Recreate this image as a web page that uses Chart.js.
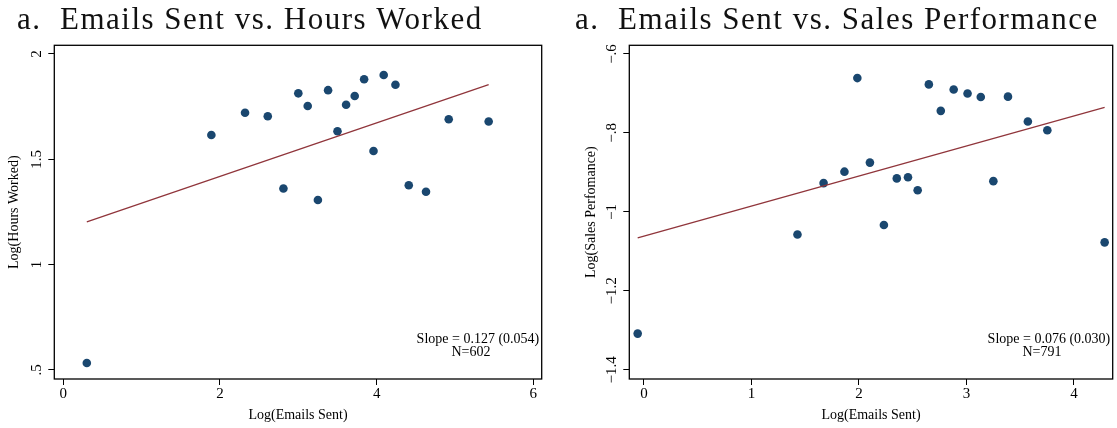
<!DOCTYPE html>
<html>
<head>
  <title>Emails Sent</title>
  <script src="https://cdn.jsdelivr.net/npm/chart.js"></script>
  <style>
    body { margin: 0; background: #fff; }
    .row { display: flex; width: 1117px; height: 428px; }
    canvas { display: block; }
  </style>
</head>
<body>
  <div class="row">
    <canvas id="hours-chart" width="558" height="428"></canvas>
    <canvas id="sales-chart" width="559" height="428"></canvas>
  </div>
  <script>
    // binned means: log(emails sent) vs log(hours worked)
    const hoursX = [0.30, 1.89, 2.32, 2.61, 2.81, 3.00, 3.12, 3.25, 3.38, 3.50,
                    3.61, 3.72, 3.84, 3.96, 4.09, 4.24, 4.41, 4.63, 4.92, 5.43];
    const hoursY = [0.533, 1.615, 1.721, 1.704, 1.361, 1.813, 1.753, 1.307, 1.828, 1.633,
                    1.759, 1.800, 1.880, 1.539, 1.900, 1.854, 1.377, 1.346, 1.690, 1.679];
    const hoursSlope = 0.127;
    const hoursSE = 0.054;
    const hoursIntercept = 1.165;
    const hoursN = 602;
    const hoursXTicks = [0, 2, 4, 6];
    const hoursYTicks = [0.5, 1, 1.5, 2];
    const hoursYLabels = ['.5', '1', '1.5', '2'];
    const hoursXRange = [-0.115, 6.107];
    const hoursYRange = [0.457, 2.041];

    // binned means: log(emails sent) vs log(sales performance)
    const salesX = [-0.058, 1.428, 1.671, 1.865, 1.985, 2.102, 2.232, 2.352, 2.456, 2.546,
                    2.650, 2.761, 2.881, 3.010, 3.133, 3.250, 3.386, 3.571, 3.752, 4.285];
    const salesY = [-1.308, -1.057, -0.927, -0.898, -0.661, -0.875, -1.033, -0.915, -0.912, -0.945,
                    -0.677, -0.744, -0.690, -0.700, -0.709, -0.922, -0.708, -0.771, -0.793, -1.077];
    const salesSlope = 0.076;
    const salesSE = 0.030;
    const salesIntercept = -1.061;
    const salesN = 791;
    const salesXTicks = [0, 1, 2, 3, 4];
    const salesYTicks = [-1.4, -1.2, -1, -0.8, -0.6];
    const salesYLabels = ['\u22121.4', '\u22121.2', '\u22121', '\u2212.8', '\u2212.6'];
    const salesXRange = [-0.136, 4.36];
    const salesYRange = [-1.423, -0.578];

    const serif = '"Liberation Serif", "Times New Roman", serif';
    const navy = '#1a476f';
    const maroon = '#90353b';

    // panel title, plot frame and the slope note
    const panelText = {
      id: 'panelText',
      afterDraw(chart, args, opts) {
        const { ctx, chartArea } = chart;
        ctx.save();
        ctx.fillStyle = '#111';
        ctx.textBaseline = 'alphabetic';
        ctx.font = '31px ' + serif;
        ctx.letterSpacing = '1.5px';
        ctx.textAlign = 'left';
        ctx.fillText(opts.title, opts.titleX, 29);
        ctx.letterSpacing = '0px';

        ctx.strokeStyle = '#000';
        ctx.lineWidth = 1.3;
        ctx.strokeRect(chartArea.left, chartArea.top, chartArea.width, chartArea.height);

        ctx.fillStyle = '#000';
        ctx.font = '14px ' + serif;
        const slopeText = 'Slope = ' + opts.slope.toFixed(3) + ' (' + opts.se.toFixed(3) + ')';
        const w = ctx.measureText(slopeText).width;
        const right = chartArea.right - 2.5;
        ctx.textAlign = 'right';
        ctx.fillText(slopeText, right, chartArea.bottom - 36.3);
        ctx.textAlign = 'center';
        ctx.fillText('N=' + opts.n, right - w / 2 - 7, chartArea.bottom - 23);
        ctx.restore();
      }
    };

    function makeChart(id, p) {
      const points = p.xs.map((x, i) => ({ x: x, y: p.ys[i] }));
      const lo = Math.min(...p.xs);
      const hi = Math.max(...p.xs);
      const fit = [lo, hi].map(x => ({ x: x, y: p.intercept + p.slope * x }));
      const canvas = document.getElementById(id);

      new Chart(canvas, {
        type: 'scatter',
        data: {
          datasets: [
            {
              label: 'fit',
              data: fit,
              showLine: true,
              pointRadius: 0,
              borderColor: maroon,
              borderWidth: 1.3,
            },
            {
              label: 'bins',
              data: points,
              pointRadius: 4.3,
              pointHoverRadius: 4.3,
              backgroundColor: navy,
              borderColor: navy,
              borderWidth: 0,
            },
          ],
        },
        options: {
          responsive: false,
          animation: false,
          layout: {
            padding: { left: 0, top: 45.3, right: canvas.width - p.plotRight, bottom: 0 },
          },
          plugins: {
            legend: { display: false },
            tooltip: { enabled: false },
            panelText: { title: p.title, titleX: p.titleX, slope: p.slope, se: p.se, n: p.n },
          },
          scales: {
            x: {
              type: 'linear',
              min: p.xRange[0],
              max: p.xRange[1],
              border: { display: false },
              grid: { drawOnChartArea: false, drawTicks: true, tickLength: 6, color: '#000', lineWidth: 1 },
              ticks: { color: '#000', font: { family: serif, size: 15 }, padding: 0, maxRotation: 0 },
              title: {
                display: true,
                text: 'Log(Emails Sent)',
                color: '#000',
                font: { family: serif, size: 14 },
                padding: { top: 0, bottom: 4.6 },
              },
              afterBuildTicks: s => { s.ticks = p.xTicks.map(v => ({ value: v })); },
              afterFit: s => { s.height = 49; s.paddingLeft = 0; s.paddingRight = 0; },
            },
            y: {
              type: 'linear',
              min: p.yRange[0],
              max: p.yRange[1],
              border: { display: false },
              grid: { drawOnChartArea: false, drawTicks: true, tickLength: 6, color: '#000', lineWidth: 1 },
              ticks: {
                color: '#000',
                font: { family: serif, size: 15 },
                minRotation: 90,
                maxRotation: 90,
                crossAlign: 'center',
                padding: p.yTickPad,
                callback: v => p.yLabels[p.yTicks.findIndex(t => Math.abs(t - v) < 1e-9)],
              },
              title: {
                display: true,
                text: p.yTitle,
                color: '#000',
                font: { family: serif, size: 14 },
                padding: { top: p.yTitlePad, bottom: 0 },
              },
              afterBuildTicks: s => { s.ticks = p.yTicks.map(v => ({ value: v })); },
              afterFit: s => { s.width = p.plotLeft; s.paddingTop = 0; s.paddingBottom = 0; },
            },
          },
        },
        plugins: [panelText],
      });
    }

    makeChart('hours-chart', {
      title: 'a.  Emails Sent vs. Hours Worked', titleX: 17,
      yTitle: 'Log(Hours Worked)',
      xs: hoursX, ys: hoursY,
      slope: hoursSlope, se: hoursSE, intercept: hoursIntercept, n: hoursN,
      xTicks: hoursXTicks, yTicks: hoursYTicks, yLabels: hoursYLabels,
      xRange: hoursXRange, yRange: hoursYRange,
      plotLeft: 54.3, plotRight: 541.7, yTickPad: 1.9, yTitlePad: 5.6,
    });

    makeChart('sales-chart', {
      title: 'a.  Emails Sent vs. Sales Performance', titleX: 17,
      yTitle: 'Log(Sales Perfomance)',
      xs: salesX, ys: salesY,
      slope: salesSlope, se: salesSE, intercept: salesIntercept, n: salesN,
      xTicks: salesXTicks, yTicks: salesYTicks, yLabels: salesYLabels,
      xRange: salesXRange, yRange: salesYRange,
      plotLeft: 71.3, plotRight: 558, yTickPad: -2.6, yTitlePad: 24.6,
    });
  </script>
</body>
</html>
